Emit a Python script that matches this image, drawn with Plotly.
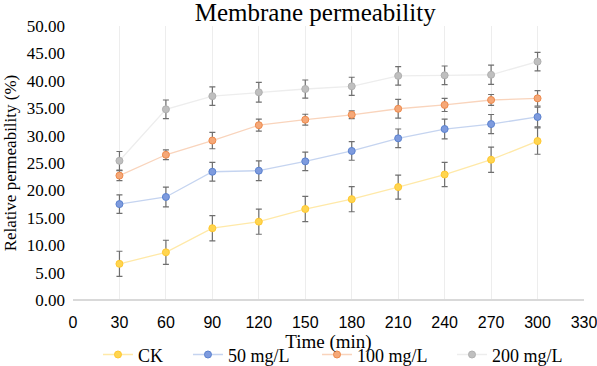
import plotly.graph_objects as go

time = [30, 60, 90, 120, 150, 180, 210, 240, 270, 300]
series_names = ["CK", "50 mg/L", "100 mg/L", "200 mg/L"]
ck = [6.6, 8.7, 13.1, 14.3, 16.6, 18.4, 20.6, 22.9, 25.6, 29.0]
ck_err = [2.3, 2.2, 2.3, 2.3, 2.3, 2.3, 2.2, 2.2, 2.3, 2.4]
m50 = [17.5, 18.8, 23.4, 23.6, 25.3, 27.2, 29.5, 31.2, 32.1, 33.4]
m50_err = [1.7, 1.8, 1.7, 1.8, 1.7, 1.7, 1.7, 1.8, 1.75, 1.8]
m100 = [22.7, 26.5, 29.1, 31.9, 32.9, 33.8, 34.9, 35.6, 36.5, 36.8]
m100_err = [0.9, 0.9, 1.5, 1.1, 1.0, 0.7, 1.7, 1.2, 1.0, 1.4]
m200 = [25.4, 34.8, 37.2, 37.9, 38.5, 39.0, 40.9, 41.0, 41.1, 43.5]
m200_err = [1.7, 1.7, 1.7, 1.8, 1.65, 1.65, 1.7, 1.7, 1.75, 1.7]

values = [ck, m50, m100, m200]
errors = [ck_err, m50_err, m100_err, m200_err]
line_colors = ["#FFE9A8", "#C5D4F0", "#F9D4BC", "#EDEDED"]
marker_fill = ["#FFD54F", "#7E9BDE", "#F5A878", "#BFBFBF"]
marker_line = ["#FFC830", "#5B82CF", "#EE8A4C", "#B0B0B0"]
legend_ids = ["legend", "legend2", "legend3", "legend4"]
legend_x = [0.0489, 0.225, 0.4775, 0.7417]

fig = go.Figure()
for name, v, e, lc, mf, ml, lg in zip(series_names, values, errors, line_colors,
                                      marker_fill, marker_line, legend_ids):
    fig.add_trace(go.Scatter(
        x=time, y=v, name=name, mode="lines+markers", legend=lg,
        line=dict(color=lc, width=1.3),
        marker=dict(color=mf, size=7, line=dict(color=ml, width=1)),
        error_y=dict(type="data", array=e, visible=True, color="#6F6F6F", thickness=1.2, width=3),
    ))

legend_style = dict(orientation="h", xanchor="left", y=-0.2, yanchor="middle",
                    font=dict(family="Liberation Serif", size=18, color="#000000"),
                    bgcolor="rgba(0,0,0,0)", borderwidth=0)
legends = {lg: dict(x=lx, **legend_style) for lg, lx in zip(legend_ids, legend_x)}

fig.update_layout(
    width=597, height=366,
    margin=dict(l=73, r=13, t=26, b=66, autoexpand=False),
    paper_bgcolor="white", plot_bgcolor="white",
    title=dict(text="Membrane permeability", x=0.528, xanchor="center", xref="container",
               y=0.99, yanchor="top",
               font=dict(family="Liberation Serif", size=25, color="#000000")),
    showlegend=True,
    xaxis=dict(range=[0, 330], tickvals=list(range(0, 331, 30)),
               showgrid=True, gridcolor="#EDEDED", gridwidth=1,
               zeroline=False, showline=False, ticklabelstandoff=11,
               ticklabeloverflow="allow",
               tickfont=dict(family="Liberation Sans", size=16, color="#000000"),
               title=dict(text="Time (min)", standoff=3,
                          font=dict(family="Liberation Serif", size=19, color="#000000"))),
    yaxis=dict(range=[0, 50], tickvals=list(range(0, 51, 5)), tickformat=".2f",
               showgrid=False, zeroline=True, zerolinecolor="#D9D9D9", zerolinewidth=1.5,
               showline=False, ticks="", ticklabelstandoff=7,
               tickfont=dict(family="Liberation Serif", size=17, color="#000000"),
               title=dict(text="Relative permeability (%)", standoff=5,
                          font=dict(family="Liberation Serif", size=17, color="#000000"))),
    **legends,
)

fig.write_html("out.html", config={"displayModeBar": False},
               post_script="document.body.style.margin='0';")
